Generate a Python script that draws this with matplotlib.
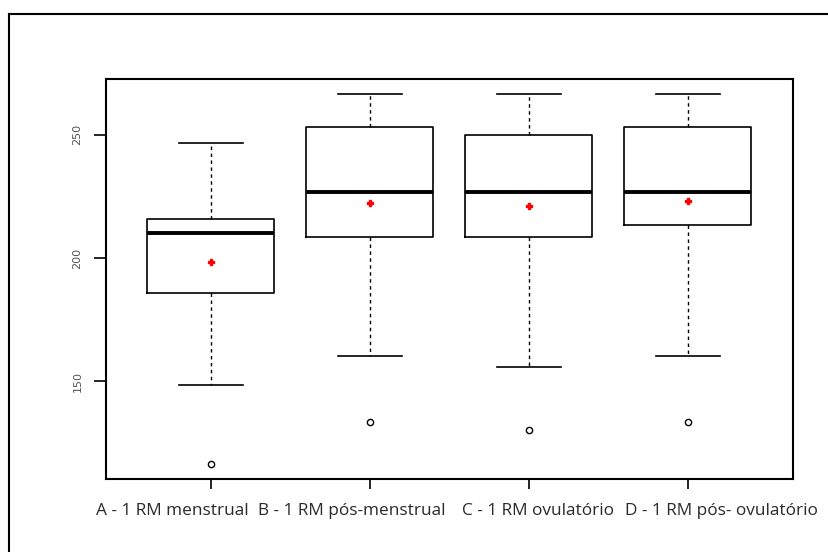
import matplotlib
matplotlib.use("Agg")
import matplotlib.pyplot as plt
from matplotlib.lines import Line2D

# values
groups = ["A - 1 RM menstrual", "B - 1 RM pós-menstrual",
          "C - 1 RM ovulatório", "D - 1 RM pós- ovulatório"]
whis_low = [148.6, 160.3, 155.9, 160.3]
q1 = [185.8, 208.5, 208.5, 213.4]
medians = [210.1, 226.7, 226.7, 226.7]
q3 = [215.8, 253.0, 249.8, 253.0]
whis_high = [246.6, 266.4, 266.4, 266.4]
means = [198.4, 222.3, 221.0, 223.0]
outliers = [[116.6], [133.6], [130.3], [133.6]]

stats = []
for i in range(len(groups)):
    stats.append(dict(label=groups[i], whislo=whis_low[i], q1=q1[i], med=medians[i],
                      q3=q3[i], whishi=whis_high[i], mean=means[i], fliers=outliers[i]))

W, H = 829, 552
fig = plt.figure(figsize=(W / 100, H / 100), dpi=100)
ax = fig.add_axes([106 / W, 1 - 478.7 / H, (792.7 - 106) / W, 400 / H])

ax.bxp(stats, positions=[1, 2, 3, 4], widths=0.8, showmeans=True,
       boxprops=dict(color="black", linewidth=1.2),
       medianprops=dict(color="black", linewidth=2.8),
       whiskerprops=dict(color="black", linewidth=1.0, linestyle=(0, (2.5, 2.5))),
       capprops=dict(color="black", linewidth=1.2),
       capwidths=0.4,
       flierprops=dict(marker="o", markerfacecolor="none", markeredgecolor="black",
                       markersize=4.5, markeredgewidth=1.0),
       meanprops=dict(marker="P", markerfacecolor="red", markeredgecolor="red",
                      markersize=4))

ax.set_xlim(0.34, 4.66)
ax.set_ylim(110.6, 272.6)
ax.set_yticks([150, 200, 250])
ax.set_yticklabels(["150", "200", "250"], rotation=90, va="center",
                   fontsize=8, color="#555555")
ax.set_xticks([1, 2, 3, 4])
ax.set_xticklabels([""] * 4)
ax.tick_params(axis="y", length=9, width=1.2, pad=8)
ax.tick_params(axis="x", length=7, width=1.2)
for s in ax.spines.values():
    s.set_linewidth(1.5)

# the group names sit in one row under the axis, not centred on the ticks
label_left_px = [96, 258, 462, 625]
for name, px in zip(groups, label_left_px):
    fig.text(px / W, 1 - 511 / H, name, ha="left", va="center",
             fontsize=12.4, family="Open Sans", color="#2a2a2a")

# outer frame lines (top and left only)
fig.add_artist(Line2D([9 / W, 1], [1 - 13.7 / H, 1 - 13.7 / H],
                      transform=fig.transFigure, color="black", linewidth=1.5))
fig.add_artist(Line2D([9 / W, 9 / W], [0, 1 - 13.7 / H],
                      transform=fig.transFigure, color="black", linewidth=1.5))

fig.savefig("out.png", dpi=100)
